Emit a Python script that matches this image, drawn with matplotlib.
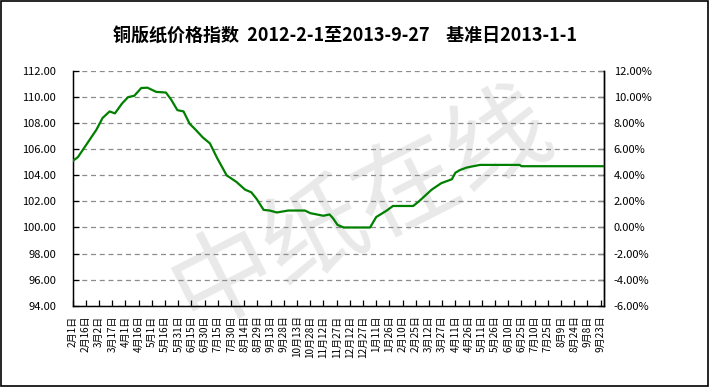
import matplotlib
matplotlib.use("Agg")
import matplotlib.pyplot as plt
import matplotlib.ticker as mticker
from matplotlib.patches import Rectangle
import pandas as pd

plt.rcParams['font.family'] = ['Noto Sans CJK SC', 'DejaVu Sans']
plt.rcParams['axes.unicode_minus'] = False

# Coated paper price index, days since 2012-02-01
start_date = "2012-02-01"
day_offset = [0, 6, 20, 27, 34, 42, 48, 56, 63, 70, 78, 85, 95, 106, 112,
              119, 126, 133, 139, 148, 156, 164, 175, 186, 196, 203, 209,
              217, 224, 232, 245, 264, 270, 285, 292, 296, 301, 308, 335,
              338, 345, 357, 364, 387, 393, 408, 419, 431, 435, 440, 448,
              463, 508, 510, 604]
index_value = [105.1, 105.4, 106.8, 107.5, 108.4, 108.9, 108.75, 109.5,
               110.0, 110.1, 110.7, 110.72, 110.4, 110.35, 109.8, 109.0,
               108.9, 107.95, 107.55, 106.9, 106.45, 105.35, 104.0, 103.5,
               102.9, 102.7, 102.2, 101.35, 101.3, 101.15, 101.3, 101.3,
               101.1, 100.9, 101.0, 100.7, 100.2, 100.0, 100.0, 100.0,
               100.8, 101.3, 101.65, 101.65, 101.97, 102.9, 103.4, 103.7,
               104.2, 104.4, 104.6, 104.8, 104.8, 104.7, 104.7]
base_value = 100.0
tick_step_days = 15
last_tick_day = 600

title = "铜版纸价格指数  2012-2-1至2013-9-27    基准日2013-1-1"
watermark = "中纸在线"

dates = pd.Timestamp(start_date) + pd.to_timedelta(day_offset, unit="D")
tick_dates = pd.Timestamp(start_date) + pd.to_timedelta(
    list(range(0, last_tick_day + 1, tick_step_days)), unit="D")

fig = plt.figure(figsize=(7.09, 3.87), dpi=100)
fig.patch.set_facecolor("white")

# faint watermark behind the chart
fig.text(0.51, 0.46, watermark, fontsize=74, color="#e9e9e9",
         rotation=27, ha="center", va="center", zorder=-5)

ax = fig.add_axes([0.1025, 0.210, 0.7495, 0.6065])
ax.set_zorder(2)
ax.set_facecolor("none")
ax.plot(dates, index_value, color="#008000", linewidth=1.6, zorder=3)

ax.set_xlim(pd.Timestamp(start_date), dates[-1])
ax.set_ylim(94, 112)
ax.yaxis.set_major_locator(mticker.MultipleLocator(2))
ax.yaxis.set_major_formatter(mticker.FormatStrFormatter("%.2f"))
ax.grid(axis="y", color="#8c8c8c", linestyle=(0, (4, 3)), linewidth=0.9)

ax.set_xticks(tick_dates)
ax.set_xticklabels([f"{d.month}月{d.day}日" for d in tick_dates],
                   rotation=90, fontsize=7.2)
ax.tick_params(axis="both", direction="in", length=4, width=0.9)
ax.tick_params(axis="x", pad=7)
ax.tick_params(axis="y", pad=12, labelsize=8)

ax.spines["top"].set_visible(False)
for s in ["left", "bottom", "right"]:
    ax.spines[s].set_linewidth(1.0)

ax2 = ax.twinx()
ax2.set_zorder(1)
lo, hi = ax.get_ylim()
ax2.set_ylim(lo - base_value, hi - base_value)
ax2.yaxis.set_major_locator(mticker.MultipleLocator(2))
ax2.yaxis.set_major_formatter(mticker.FuncFormatter(lambda v, p: f"{v:.2f}%"))
ax2.tick_params(axis="y", direction="in", length=4, width=0.9, labelsize=8, pad=7)
ax2.spines["top"].set_visible(False)
ax2.spines["right"].set_linewidth(1.0)

fig.text(0.486, 0.91, title, fontsize=13, fontweight="bold",
         ha="center", va="center")

fig.patches.append(Rectangle((0.001, 0.002), 0.997, 0.996,
                             transform=fig.transFigure, fill=False,
                             edgecolor="black", linewidth=1.2))

fig.savefig("out.png", dpi=100)
